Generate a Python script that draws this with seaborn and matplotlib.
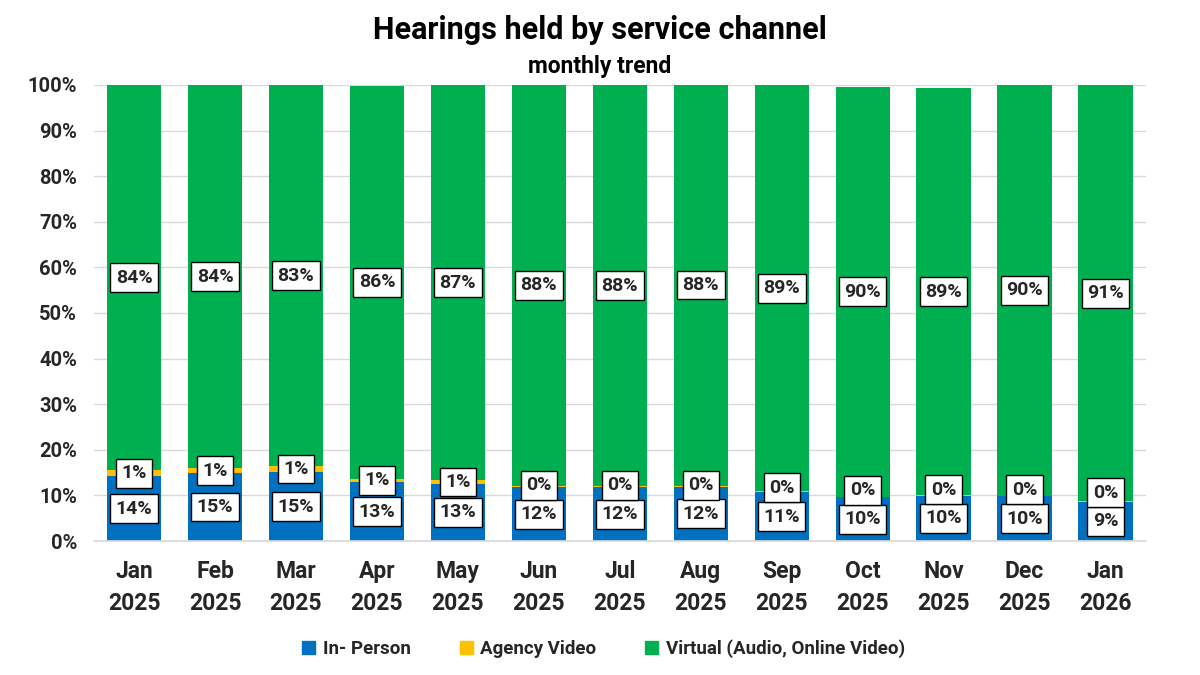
import numpy as np
import pandas as pd
import matplotlib
matplotlib.use("Agg")
import matplotlib.pyplot as plt
from matplotlib.patches import Patch
import seaborn as sns

sns.set_theme(style="white")
plt.rcParams['font.family'] = ['Roboto', 'DejaVu Sans']

# data (percent of hearings)
months = ["Jan\n2025", "Feb\n2025", "Mar\n2025", "Apr\n2025", "May\n2025", "Jun\n2025",
          "Jul\n2025", "Aug\n2025", "Sep\n2025", "Oct\n2025", "Nov\n2025", "Dec\n2025",
          "Jan\n2026"]
in_person = [14.2, 14.9, 15.1, 12.9, 12.6, 11.8, 11.8, 11.9, 10.7, 9.6, 9.9, 9.8, 8.6]
agency_video = [1.3, 1.1, 1.4, 0.8, 0.7, 0.3, 0.2, 0.2, 0.2, 0.1, 0.1, 0.1, 0.1]
virtual = [84.4, 84.0, 83.4, 86.1, 86.6, 87.9, 88.0, 88.1, 89.1, 89.9, 89.3, 90.1, 91.2]

series_names = ["In- Person", "Agency Video", "Virtual (Audio, Online Video)"]
colors = ["#0070C0", "#FFC000", "#00B050"]

df = pd.DataFrame({"month": months, "in_person": in_person,
                   "agency": agency_video, "virtual": virtual})
bottom_agency = df["in_person"].values
bottom_virtual = bottom_agency + df["agency"].values

fig = plt.figure(figsize=(12, 6.75), dpi=100)
ax = fig.add_axes([0.078, 0.1985, 0.877, 0.6756])

bar_kw = dict(width=0.67, saturation=1, linewidth=0, ax=ax, zorder=2)
sns.barplot(data=df, x="month", y="in_person", color=colors[0], **bar_kw)
sns.barplot(data=df, x="month", y="agency", color=colors[1], bottom=bottom_agency, **bar_kw)
sns.barplot(data=df, x="month", y="virtual", color=colors[2], bottom=bottom_virtual, **bar_kw)

# data labels
box = dict(boxstyle="square,pad=0.28", fc="white", ec="black", lw=1)
lab = dict(ha="center", va="center", fontsize=14, fontweight="bold", bbox=box, zorder=5)
for i in range(len(months)):
    ip = in_person[i]
    ag = agency_video[i]
    vi = virtual[i]
    ax.text(i, ip / 2, f"{round(ip):.0f}%", **lab)
    ag_y = max(ip + ag / 2, ip / 2 + 6.3)
    ax.text(i, ag_y, f"{round(ag):.0f}%", **lab)
    ax.text(i, ip + ag + vi / 2, f"{round(vi):.0f}%", **lab)

ax.set_ylim(0, 100)
ax.set_xlim(-0.5, len(months) - 0.5)
ax.set_yticks(np.arange(0, 101, 10))
ax.set_yticklabels([f"{v}%" for v in range(0, 101, 10)], fontsize=14.5, fontweight="bold")
ax.set_xticks(range(len(months)))
ax.set_xticklabels(months, fontsize=16.5, fontweight="bold", linespacing=1.45)
ax.tick_params(axis="x", pad=14, length=0)
ax.tick_params(axis="y", pad=12, length=0)
ax.set_xlabel("")
ax.set_ylabel("")
ax.yaxis.grid(True, color="#D9D9D9", lw=1, zorder=0)
ax.set_axisbelow(True)
for s in ["top", "right", "left"]:
    ax.spines[s].set_visible(False)
ax.spines["bottom"].set_color("#D9D9D9")

fig.text(0.5, 0.955, "Hearings held by service channel", ha="center", va="center",
         fontsize=22, fontweight="bold", color="black")
fig.text(0.5, 0.902, "monthly trend", ha="center", va="center",
         fontsize=16.5, fontweight="bold", color="black")

handles = [Patch(color=c, label=n) for c, n in zip(colors, series_names)]
leg = fig.legend(handles=handles, loc="center", bbox_to_anchor=(0.503, 0.039), ncol=3,
                 frameon=False, handlelength=0.7, handleheight=0.7, handletextpad=0.4,
                 columnspacing=2.6, prop={"size": 13.5, "weight": "bold"})

fig.savefig("out.png", dpi=100)
